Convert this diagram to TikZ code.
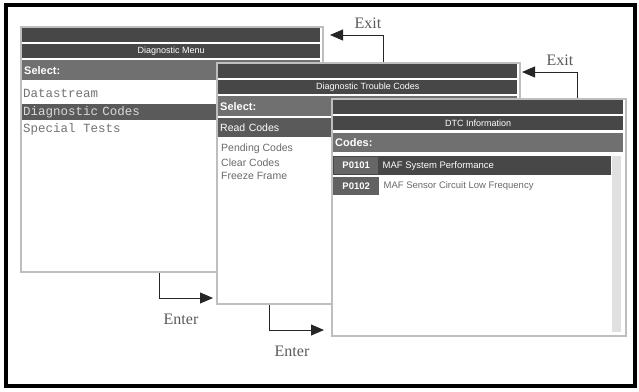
\documentclass[tikz,border=0pt]{standalone}
\usepackage{fontspec}
\setmainfont{Liberation Serif}
\setsansfont{Liberation Sans}
\setmonofont{Liberation Mono}
\usetikzlibrary{positioning,arrows.meta}
\definecolor{bardark}{HTML}{474747}
\definecolor{barmid}{HTML}{707070}
\definecolor{codebox}{HTML}{5A5A5A}
\definecolor{winedge}{HTML}{BEBEBE}
\definecolor{itemgray}{HTML}{6A6A6A}
\tikzset{
  win/.style={draw=winedge,line width=2pt,fill=white,anchor=north west,inner sep=0pt},
  bar/.style={fill=bardark,anchor=north west,inner sep=0pt,text=white,
    font=\sffamily\fontsize{9}{9}\selectfont},
  selbar/.style={fill=barmid,anchor=north west,inner xsep=2pt,inner ysep=0pt,text=white,
    align=left,font=\sffamily\bfseries\fontsize{11}{11}\selectfont},
  hibar/.style={fill=codebox,anchor=north west,inner xsep=2pt,inner ysep=0pt,text=white,align=left},
  item/.style={anchor=west,inner sep=0pt,text=itemgray},
  flow/.style={draw=black!85,line width=0.8pt,-{Triangle[length=13pt,width=11pt]}},
  tag/.style={font=\fontsize{16}{16}\selectfont,text=black!65}
}
\begin{document}
\begin{tikzpicture}[x=1pt,y=-1pt]
  \useasboundingbox (0,0) rectangle (639,391);
  \draw[line width=4pt] (6,5) rectangle (635,386);

  % Diagnostic Menu
  \path (20,26) node[win,minimum width=302,minimum height=245] (w1) {};
  \path (22,28) node[bar,minimum width=298,minimum height=14] (w1top) {};
  \path (22,44) node[bar,minimum width=298,minimum height=14] (w1title) {Diagnostic Menu};
  \path (22,60) node[selbar,text width=294,minimum height=20] (w1sel) {Select:};
  \path (23,93) node[item,text=black!55,font=\ttfamily\fontsize{12.5}{12}\selectfont] (w1a) {Datastream};
  \path (22,104) node[hibar,text width=294,minimum height=16,inner xsep=1pt,text=black!15,font=\ttfamily\fontsize{12.5}{12}\selectfont] (w1b) {Diagnostic Codes};
  \path (23,129) node[item,text=black!55,font=\ttfamily\fontsize{12.5}{12}\selectfont] (w1c) {Special Tests};

  % Diagnostic Trouble Codes
  \path (216,62) node[win,minimum width=303,minimum height=241] (w2) {};
  \path (218,64) node[bar,minimum width=299,minimum height=14] (w2top) {};
  \path (218,80) node[bar,minimum width=299,minimum height=14] (w2title) {Diagnostic Trouble Codes};
  \path (218,96) node[selbar,text width=295,minimum height=20] (w2sel) {Select:};
  \path (218,118) node[hibar,text width=295,minimum height=19,font=\sffamily\fontsize{10.5}{10}\selectfont] (w2a) {Read Codes};
  \path (221,149) node[item,font=\sffamily\fontsize{10.5}{10}\selectfont] (w2b) {Pending Codes};
  \path (221,163) node[item,font=\sffamily\fontsize{10.5}{10}\selectfont] (w2c) {Clear Codes};
  \path (221,176) node[item,font=\sffamily\fontsize{10.5}{10}\selectfont] (w2d) {Freeze Frame};

  % DTC Information
  \path (331,98) node[win,minimum width=294,minimum height=237] (w3) {};
  \path (333,100) node[bar,minimum width=290,minimum height=14] (w3top) {};
  \path (333,116) node[bar,minimum width=290,minimum height=14] (w3title) {DTC Information};
  \path (333,133) node[selbar,text width=286,minimum height=19] (w3sel) {Codes:};
  \path (333,156) node[bar,minimum width=278,minimum height=19] (w3row) {};
  \path (612,156) node[anchor=north west,fill=black!12,inner sep=0pt,minimum width=9,minimum height=176] (w3scroll) {};
  \path (334,157) node[hibar,fill=black!60,minimum width=44,minimum height=17,inner xsep=1pt,
    font=\sffamily\bfseries\fontsize{9.5}{9}\selectfont] (p1) {P0101};
  \path (p1.east) node[item,anchor=west,xshift=4pt,text=white,font=\sffamily\fontsize{9.5}{9}\selectfont] (p1txt) {MAF System Performance};
  \path (333,177) node[hibar,fill=black!62,minimum width=46,minimum height=18,inner xsep=1pt,
    font=\sffamily\bfseries\fontsize{9.5}{9}\selectfont] (p2) {P0102};
  \path (p2.east) node[item,anchor=west,xshift=4pt,font=\sffamily\fontsize{9.5}{9}\selectfont] (p2txt) {MAF Sensor Circuit Low Frequency};

  % Exit / Enter
  \coordinate (exit1) at (330,35);
  \coordinate (exit2) at (522,72);
  \coordinate (enter1) at (213,298);
  \coordinate (enter2) at (324,330);
  \draw[flow] (383,0 |- w2.north) |- (exit1);
  \draw[flow] (577,0 |- w3.north) |- (exit2);
  \draw[flow] (159,0 |- w1.south) |- (enter1);
  \draw[flow] (269,0 |- w2.south) |- (enter2);
  \path (368,23) node[tag] (t1) {Exit};
  \path (560,60) node[tag] (t2) {Exit};
  \path (181,319) node[tag] (t3) {Enter};
  \path (292,351) node[tag] (t4) {Enter};
\end{tikzpicture}
\end{document}
